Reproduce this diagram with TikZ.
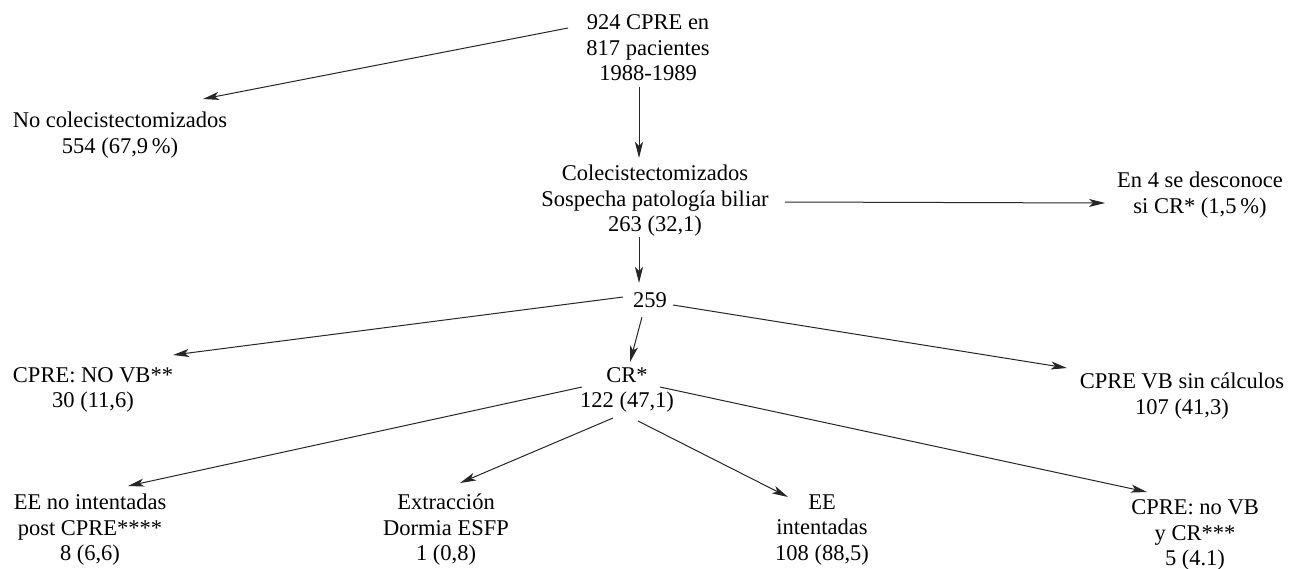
\documentclass[tikz,border=0pt]{standalone}
\usepackage{fontspec}
\setmainfont{Liberation Serif}
\usepackage{tikz}
\usetikzlibrary{arrows.meta}

\begin{document}
\begin{tikzpicture}[
    x=1pt, y=-1pt,
    lbl/.style = {align=center, inner sep=2pt,
                 font=\fontsize{22.5}{25.5}\selectfont},
    arr/.style = {-{Stealth[length=16pt, width=8pt, inset=4pt]},
                 line width=1pt, draw=black!85}
]
\useasboundingbox (0,0) rectangle (1289,568);

% Top levels
\node[lbl] (total) at (648,48) {924 CPRE en\\817 pacientes\\1988-1989};
\node[lbl] (nocol) at (120,135) {No colecistectomizados\\554 (67,9\,\%)};
\node[lbl] (col) at (655,201) {Colecistectomizados\\Sospecha patología biliar\\263 (32,1)};
\node[lbl] (desc) at (1200,195) {En 4 se desconoce\\si CR* (1,5\,\%)};
\node[lbl] (n259) at (650,300) {259};

% Middle level
\node[lbl] (novb) at (93,390) {CPRE: NO VB**\\30 (11,6)};
\node[lbl] (cr) at (627,390) {CR*\\122 (47,1)};
\node[lbl] (vbsin) at (1182,396) {CPRE VB sin cálculos\\107 (41,3)};

% Bottom level
\node[lbl] (eeno) at (90,530) {EE no intentadas\\post CPRE****\\8 (6,6)};
\node[lbl] (extr) at (446,530) {Extracción\\Dormia ESFP\\1 (0,8)};
\node[lbl] (eeint) at (822,530) {EE\\intentadas\\108 (88,5)};
\node[lbl] (crnovb) at (1195,535) {CPRE: no VB\\y CR***\\5 (4.1)};

% Arrows
\draw[arr] ([shift={(-80,-20)}]total.center) -- ([shift={(83,-36)}]nocol.center);
\draw[arr] ([shift={(-9,39)}]total.center) -- ([shift={(-16,-43)}]col.center);
\draw[arr] ([shift={(130,1)}]col.center) -- ([shift={(-95,8)}]desc.center);
\draw[arr] ([shift={(-16,36)}]col.center) -- ([shift={(-11,-17)}]n259.center);
\draw[arr] ([shift={(-27,-3)}]n259.center) -- ([shift={(80,-35)}]novb.center);
\draw[arr] ([shift={(-8,17)}]n259.center) -- ([shift={(3,-28)}]cr.center);
\draw[arr] ([shift={(23,5)}]n259.center) -- ([shift={(-115,-28)}]vbsin.center);
\draw[arr] ([shift={(-45,-3)}]cr.center) -- ([shift={(38,-44)}]eeno.center);
\draw[arr] ([shift={(-14,28)}]cr.center) -- ([shift={(14,-47)}]extr.center);
\draw[arr] ([shift={(11,31)}]cr.center) -- ([shift={(-34,-33)}]eeint.center);
\draw[arr] ([shift={(33,-3)}]cr.center) -- ([shift={(-48,-43)}]crnovb.center);

\end{tikzpicture}
\end{document}
